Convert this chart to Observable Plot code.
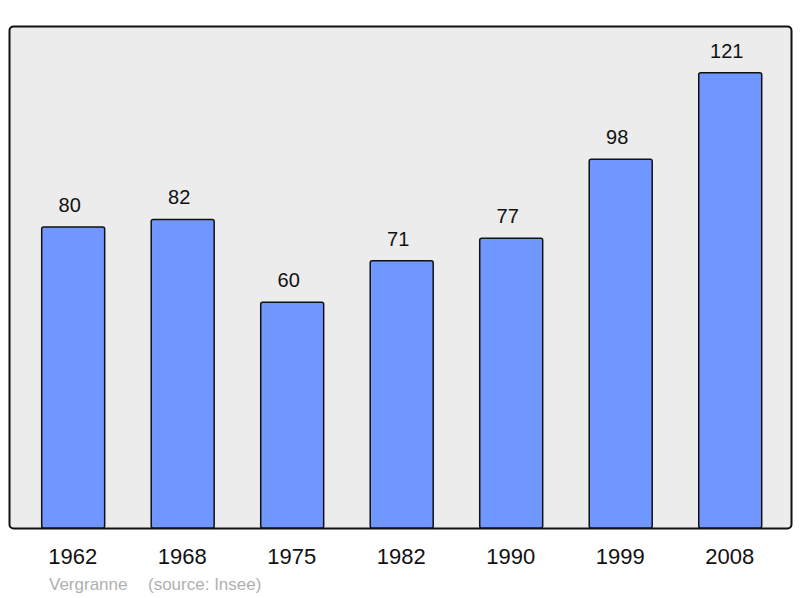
<!DOCTYPE html>
<html>
<head>
<meta charset="utf-8">
<script src="https://cdn.jsdelivr.net/npm/d3@7"></script>
<script src="https://cdn.jsdelivr.net/npm/@observablehq/plot@0.6"></script>
<style>
body { margin: 0; background: #fff; font-family: "Liberation Sans", Arial, sans-serif; }
#caption { position: relative; height: 26px; margin: 0; font-size: 17px; line-height: 20px; color: #b0b0b0; white-space: pre; }
#caption span { position: absolute; top: 3px; }
</style>
</head>
<body>
<div id="chart"></div>
<div id="caption"><span style="left:49px">Vergranne</span><span style="left:148px">(source: Insee)</span></div>
<script>
const years = ["1962", "1968", "1975", "1982", "1990", "1999", "2008"];
const population = [80, 82, 60, 71, 77, 98, 121];
const data = years.map((y, i) => ({year: y, pop: population[i]}));

const chart = Plot.plot({
  width: 800,
  height: 572,
  marginTop: 26,
  marginBottom: 44,
  marginLeft: 9,
  marginRight: 9,
  style: {fontFamily: "Liberation Sans, Arial, sans-serif", background: "white", overflow: "visible"},
  x: {domain: years, range: [41.7, 761.7], paddingInner: 0.425, paddingOuter: 0, round: false, label: null},
  y: {domain: [0, 133.4], axis: null},
  marks: [
    Plot.frame({fill: "#ececec", stroke: "#111", strokeWidth: 2, rx: 4}),
    Plot.barY(data, {x: "year", y: "pop", fill: "#7096ff", stroke: "#111", strokeWidth: 1.5, rx: 2}),
    Plot.text(data, {x: "year", y: "pop", text: d => String(d.pop), dx: -4, dy: -22, fontSize: 20, fill: "#111"}),
    Plot.axisX({tickSize: 0, tickPadding: 20, fontSize: 22, dx: -1, fill: "#111", label: null})
  ]
});
document.getElementById("chart").appendChild(chart);
</script>
</body>
</html>
